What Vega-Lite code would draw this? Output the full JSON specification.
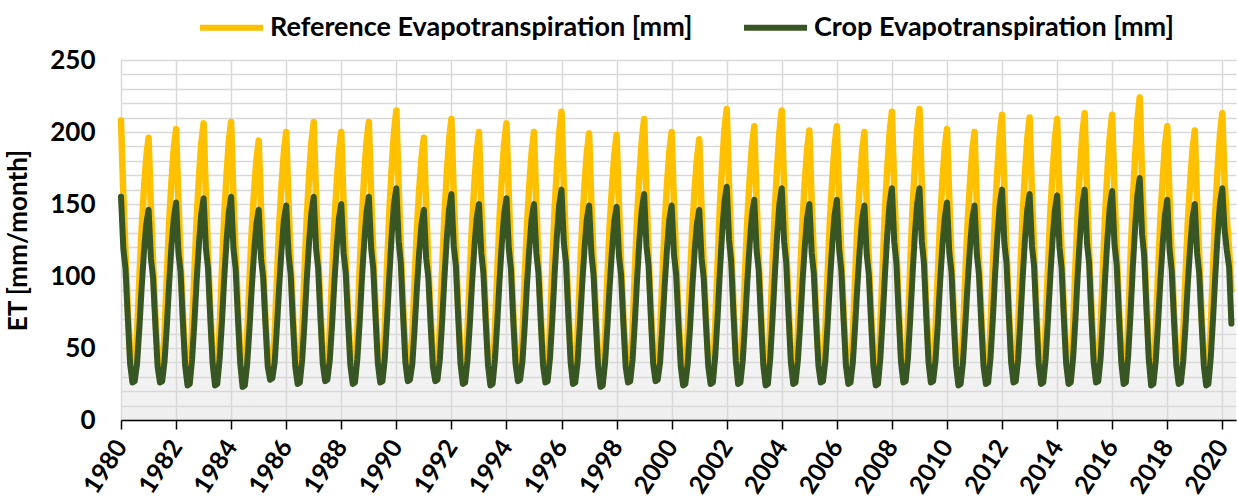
{
"$schema": "https://vega.github.io/schema/vega-lite/v6.json",
"width": 1115, "height": 360,
"autosize": "none",
"padding": {"left": 121, "top": 60, "right": 2, "bottom": 83},
"background": "white",
"config": {
  "font": "Lato",
  "view": {"stroke": null, "fill": {"gradient": "linear", "x1": 0, "y1": 0, "x2": 0, "y2": 1, "stops": [{"offset": 0, "color": "#ffffff"}, {"offset": 0.3, "color": "#ffffff"}, {"offset": 1, "color": "#efefef"}]}},
  "axisY": {"labelOverlap": false, "ticks": false, "domain": false, "labelFontSize": 26, "labelFontWeight": "bold", "labelColor": "#000", "labelPadding": 26, "titleFontSize": 26, "titleFontWeight": "bold", "titleColor": "#000", "titlePadding": 18, "gridColor": "#d9d9d9", "gridWidth": 1.5},
  "legend": {"orient": "none", "legendX": 76, "legendY": -67, "direction": "horizontal", "symbolType": "stroke", "symbolSize": 3969, "symbolStrokeWidth": 6, "labelFontSize": 27, "labelFontWeight": "bold", "labelFont": "Lato", "labelLimit": 700, "columnPadding": 39, "labelOffset": 4, "labelColor": "#000", "title": null}
},
"data": {"values": [
{"d":"1980-01","r":208,"c":155},{"d":"1980-02","r":156,"c":119},{"d":"1980-03","r":116,"c":105},{"d":"1980-04","r":77,"c":70},{"d":"1980-05","r":46,"c":39},{"d":"1980-06","r":31,"c":26},{"d":"1980-07","r":32,"c":27},{"d":"1980-08","r":59,"c":39},{"d":"1980-09","r":98,"c":64},{"d":"1980-10","r":133,"c":92},{"d":"1980-11","r":161,"c":117},{"d":"1980-12","r":182,"c":136},
{"d":"1981-01","r":196,"c":146},{"d":"1981-02","r":147,"c":112},{"d":"1981-03","r":110,"c":99},{"d":"1981-04","r":73,"c":66},{"d":"1981-05","r":43,"c":37},{"d":"1981-06","r":31,"c":26},{"d":"1981-07","r":32,"c":27},{"d":"1981-08","r":61,"c":41},{"d":"1981-09","r":101,"c":66},{"d":"1981-10","r":137,"c":95},{"d":"1981-11","r":166,"c":121},{"d":"1981-12","r":188,"c":140},
{"d":"1982-01","r":202,"c":151},{"d":"1982-02","r":152,"c":116},{"d":"1982-03","r":113,"c":103},{"d":"1982-04","r":75,"c":68},{"d":"1982-05","r":44,"c":38},{"d":"1982-06","r":29,"c":24},{"d":"1982-07","r":30,"c":25},{"d":"1982-08","r":62,"c":42},{"d":"1982-09","r":103,"c":68},{"d":"1982-10","r":140,"c":97},{"d":"1982-11","r":169,"c":123},{"d":"1982-12","r":192,"c":143},
{"d":"1983-01","r":206,"c":154},{"d":"1983-02","r":155,"c":119},{"d":"1983-03","r":115,"c":105},{"d":"1983-04","r":76,"c":69},{"d":"1983-05","r":45,"c":39},{"d":"1983-06","r":29,"c":24},{"d":"1983-07","r":30,"c":25},{"d":"1983-08","r":62,"c":42},{"d":"1983-09","r":104,"c":68},{"d":"1983-10","r":141,"c":98},{"d":"1983-11","r":170,"c":124},{"d":"1983-12","r":193,"c":144},
{"d":"1984-01","r":207,"c":155},{"d":"1984-02","r":155,"c":119},{"d":"1984-03","r":116,"c":105},{"d":"1984-04","r":77,"c":70},{"d":"1984-05","r":46,"c":39},{"d":"1984-06","r":28,"c":23},{"d":"1984-07","r":29,"c":24},{"d":"1984-08","r":58,"c":39},{"d":"1984-09","r":97,"c":64},{"d":"1984-10","r":132,"c":92},{"d":"1984-11","r":159,"c":117},{"d":"1984-12","r":180,"c":136},
{"d":"1985-01","r":194,"c":146},{"d":"1985-02","r":146,"c":112},{"d":"1985-03","r":109,"c":99},{"d":"1985-04","r":72,"c":66},{"d":"1985-05","r":43,"c":37},{"d":"1985-06","r":33,"c":28},{"d":"1985-07","r":34,"c":29},{"d":"1985-08","r":60,"c":40},{"d":"1985-09","r":100,"c":66},{"d":"1985-10","r":136,"c":94},{"d":"1985-11","r":164,"c":119},{"d":"1985-12","r":186,"c":139},
{"d":"1986-01","r":200,"c":149},{"d":"1986-02","r":150,"c":115},{"d":"1986-03","r":112,"c":101},{"d":"1986-04","r":74,"c":67},{"d":"1986-05","r":44,"c":37},{"d":"1986-06","r":30,"c":25},{"d":"1986-07","r":31,"c":26},{"d":"1986-08","r":62,"c":42},{"d":"1986-09","r":104,"c":68},{"d":"1986-10","r":141,"c":98},{"d":"1986-11","r":170,"c":124},{"d":"1986-12","r":193,"c":144},
{"d":"1987-01","r":207,"c":155},{"d":"1987-02","r":155,"c":119},{"d":"1987-03","r":116,"c":105},{"d":"1987-04","r":77,"c":70},{"d":"1987-05","r":46,"c":39},{"d":"1987-06","r":32,"c":27},{"d":"1987-07","r":33,"c":28},{"d":"1987-08","r":60,"c":41},{"d":"1987-09","r":100,"c":66},{"d":"1987-10","r":136,"c":95},{"d":"1987-11","r":164,"c":120},{"d":"1987-12","r":186,"c":140},
{"d":"1988-01","r":200,"c":150},{"d":"1988-02","r":150,"c":116},{"d":"1988-03","r":112,"c":102},{"d":"1988-04","r":74,"c":68},{"d":"1988-05","r":44,"c":38},{"d":"1988-06","r":30,"c":25},{"d":"1988-07","r":31,"c":26},{"d":"1988-08","r":62,"c":42},{"d":"1988-09","r":104,"c":68},{"d":"1988-10","r":141,"c":98},{"d":"1988-11","r":170,"c":124},{"d":"1988-12","r":193,"c":144},
{"d":"1989-01","r":207,"c":155},{"d":"1989-02","r":155,"c":119},{"d":"1989-03","r":116,"c":105},{"d":"1989-04","r":77,"c":70},{"d":"1989-05","r":46,"c":39},{"d":"1989-06","r":31,"c":26},{"d":"1989-07","r":32,"c":27},{"d":"1989-08","r":65,"c":43},{"d":"1989-09","r":108,"c":71},{"d":"1989-10","r":146,"c":101},{"d":"1989-11","r":176,"c":129},{"d":"1989-12","r":200,"c":150},
{"d":"1990-01","r":215,"c":161},{"d":"1990-02","r":161,"c":124},{"d":"1990-03","r":120,"c":109},{"d":"1990-04","r":80,"c":72},{"d":"1990-05","r":47,"c":40},{"d":"1990-06","r":32,"c":27},{"d":"1990-07","r":33,"c":28},{"d":"1990-08","r":59,"c":39},{"d":"1990-09","r":98,"c":64},{"d":"1990-10","r":133,"c":92},{"d":"1990-11","r":161,"c":117},{"d":"1990-12","r":182,"c":136},
{"d":"1991-01","r":196,"c":146},{"d":"1991-02","r":147,"c":112},{"d":"1991-03","r":110,"c":99},{"d":"1991-04","r":73,"c":66},{"d":"1991-05","r":43,"c":37},{"d":"1991-06","r":32,"c":27},{"d":"1991-07","r":33,"c":28},{"d":"1991-08","r":63,"c":42},{"d":"1991-09","r":105,"c":69},{"d":"1991-10","r":142,"c":99},{"d":"1991-11","r":171,"c":126},{"d":"1991-12","r":194,"c":146},
{"d":"1992-01","r":209,"c":157},{"d":"1992-02","r":157,"c":121},{"d":"1992-03","r":117,"c":107},{"d":"1992-04","r":77,"c":71},{"d":"1992-05","r":46,"c":39},{"d":"1992-06","r":30,"c":25},{"d":"1992-07","r":31,"c":26},{"d":"1992-08","r":60,"c":41},{"d":"1992-09","r":100,"c":66},{"d":"1992-10","r":136,"c":95},{"d":"1992-11","r":164,"c":120},{"d":"1992-12","r":186,"c":140},
{"d":"1993-01","r":200,"c":150},{"d":"1993-02","r":150,"c":116},{"d":"1993-03","r":112,"c":102},{"d":"1993-04","r":74,"c":68},{"d":"1993-05","r":44,"c":38},{"d":"1993-06","r":29,"c":24},{"d":"1993-07","r":30,"c":25},{"d":"1993-08","r":62,"c":42},{"d":"1993-09","r":103,"c":68},{"d":"1993-10","r":140,"c":97},{"d":"1993-11","r":169,"c":123},{"d":"1993-12","r":192,"c":143},
{"d":"1994-01","r":206,"c":154},{"d":"1994-02","r":155,"c":119},{"d":"1994-03","r":115,"c":105},{"d":"1994-04","r":76,"c":69},{"d":"1994-05","r":45,"c":39},{"d":"1994-06","r":32,"c":27},{"d":"1994-07","r":33,"c":28},{"d":"1994-08","r":60,"c":41},{"d":"1994-09","r":100,"c":66},{"d":"1994-10","r":136,"c":95},{"d":"1994-11","r":164,"c":120},{"d":"1994-12","r":186,"c":140},
{"d":"1995-01","r":200,"c":150},{"d":"1995-02","r":150,"c":116},{"d":"1995-03","r":112,"c":102},{"d":"1995-04","r":74,"c":68},{"d":"1995-05","r":44,"c":38},{"d":"1995-06","r":31,"c":26},{"d":"1995-07","r":32,"c":27},{"d":"1995-08","r":64,"c":43},{"d":"1995-09","r":107,"c":70},{"d":"1995-10","r":146,"c":101},{"d":"1995-11","r":175,"c":128},{"d":"1995-12","r":199,"c":149},
{"d":"1996-01","r":214,"c":160},{"d":"1996-02","r":161,"c":123},{"d":"1996-03","r":120,"c":109},{"d":"1996-04","r":79,"c":72},{"d":"1996-05","r":47,"c":40},{"d":"1996-06","r":30,"c":25},{"d":"1996-07","r":31,"c":26},{"d":"1996-08","r":60,"c":40},{"d":"1996-09","r":100,"c":66},{"d":"1996-10","r":135,"c":94},{"d":"1996-11","r":163,"c":119},{"d":"1996-12","r":185,"c":139},
{"d":"1997-01","r":199,"c":149},{"d":"1997-02","r":149,"c":115},{"d":"1997-03","r":111,"c":101},{"d":"1997-04","r":74,"c":67},{"d":"1997-05","r":44,"c":37},{"d":"1997-06","r":28,"c":23},{"d":"1997-07","r":29,"c":24},{"d":"1997-08","r":59,"c":40},{"d":"1997-09","r":99,"c":65},{"d":"1997-10","r":135,"c":93},{"d":"1997-11","r":162,"c":118},{"d":"1997-12","r":184,"c":138},
{"d":"1998-01","r":198,"c":148},{"d":"1998-02","r":149,"c":114},{"d":"1998-03","r":111,"c":101},{"d":"1998-04","r":73,"c":67},{"d":"1998-05","r":44,"c":37},{"d":"1998-06","r":31,"c":26},{"d":"1998-07","r":32,"c":27},{"d":"1998-08","r":63,"c":42},{"d":"1998-09","r":105,"c":69},{"d":"1998-10","r":142,"c":99},{"d":"1998-11","r":171,"c":126},{"d":"1998-12","r":194,"c":146},
{"d":"1999-01","r":209,"c":157},{"d":"1999-02","r":157,"c":121},{"d":"1999-03","r":117,"c":107},{"d":"1999-04","r":77,"c":71},{"d":"1999-05","r":46,"c":39},{"d":"1999-06","r":32,"c":27},{"d":"1999-07","r":33,"c":28},{"d":"1999-08","r":60,"c":40},{"d":"1999-09","r":100,"c":66},{"d":"1999-10","r":136,"c":94},{"d":"1999-11","r":164,"c":119},{"d":"1999-12","r":186,"c":139},
{"d":"2000-01","r":200,"c":149},{"d":"2000-02","r":150,"c":115},{"d":"2000-03","r":112,"c":101},{"d":"2000-04","r":74,"c":67},{"d":"2000-05","r":44,"c":37},{"d":"2000-06","r":29,"c":24},{"d":"2000-07","r":30,"c":25},{"d":"2000-08","r":59,"c":39},{"d":"2000-09","r":98,"c":64},{"d":"2000-10","r":133,"c":92},{"d":"2000-11","r":160,"c":117},{"d":"2000-12","r":181,"c":136},
{"d":"2001-01","r":195,"c":146},{"d":"2001-02","r":146,"c":112},{"d":"2001-03","r":109,"c":99},{"d":"2001-04","r":72,"c":66},{"d":"2001-05","r":43,"c":37},{"d":"2001-06","r":30,"c":25},{"d":"2001-07","r":31,"c":26},{"d":"2001-08","r":65,"c":44},{"d":"2001-09","r":108,"c":71},{"d":"2001-10","r":147,"c":102},{"d":"2001-11","r":177,"c":130},{"d":"2001-12","r":201,"c":151},
{"d":"2002-01","r":216,"c":162},{"d":"2002-02","r":162,"c":125},{"d":"2002-03","r":121,"c":110},{"d":"2002-04","r":80,"c":73},{"d":"2002-05","r":48,"c":41},{"d":"2002-06","r":30,"c":25},{"d":"2002-07","r":31,"c":26},{"d":"2002-08","r":61,"c":41},{"d":"2002-09","r":102,"c":67},{"d":"2002-10","r":139,"c":96},{"d":"2002-11","r":167,"c":122},{"d":"2002-12","r":190,"c":142},
{"d":"2003-01","r":204,"c":153},{"d":"2003-02","r":153,"c":118},{"d":"2003-03","r":114,"c":104},{"d":"2003-04","r":75,"c":69},{"d":"2003-05","r":45,"c":38},{"d":"2003-06","r":29,"c":24},{"d":"2003-07","r":30,"c":25},{"d":"2003-08","r":65,"c":43},{"d":"2003-09","r":108,"c":71},{"d":"2003-10","r":146,"c":101},{"d":"2003-11","r":176,"c":129},{"d":"2003-12","r":200,"c":150},
{"d":"2004-01","r":215,"c":161},{"d":"2004-02","r":161,"c":124},{"d":"2004-03","r":120,"c":109},{"d":"2004-04","r":80,"c":72},{"d":"2004-05","r":47,"c":40},{"d":"2004-06","r":30,"c":25},{"d":"2004-07","r":31,"c":26},{"d":"2004-08","r":60,"c":41},{"d":"2004-09","r":101,"c":66},{"d":"2004-10","r":137,"c":95},{"d":"2004-11","r":165,"c":120},{"d":"2004-12","r":187,"c":140},
{"d":"2005-01","r":201,"c":150},{"d":"2005-02","r":151,"c":116},{"d":"2005-03","r":113,"c":102},{"d":"2005-04","r":74,"c":68},{"d":"2005-05","r":44,"c":38},{"d":"2005-06","r":31,"c":26},{"d":"2005-07","r":32,"c":27},{"d":"2005-08","r":61,"c":41},{"d":"2005-09","r":102,"c":67},{"d":"2005-10","r":139,"c":96},{"d":"2005-11","r":167,"c":122},{"d":"2005-12","r":190,"c":142},
{"d":"2006-01","r":204,"c":153},{"d":"2006-02","r":153,"c":118},{"d":"2006-03","r":114,"c":104},{"d":"2006-04","r":75,"c":69},{"d":"2006-05","r":45,"c":38},{"d":"2006-06","r":30,"c":25},{"d":"2006-07","r":31,"c":26},{"d":"2006-08","r":60,"c":40},{"d":"2006-09","r":100,"c":66},{"d":"2006-10","r":136,"c":94},{"d":"2006-11","r":164,"c":119},{"d":"2006-12","r":186,"c":139},
{"d":"2007-01","r":200,"c":149},{"d":"2007-02","r":150,"c":115},{"d":"2007-03","r":112,"c":101},{"d":"2007-04","r":74,"c":67},{"d":"2007-05","r":44,"c":37},{"d":"2007-06","r":29,"c":24},{"d":"2007-07","r":30,"c":25},{"d":"2007-08","r":64,"c":43},{"d":"2007-09","r":107,"c":71},{"d":"2007-10","r":146,"c":101},{"d":"2007-11","r":175,"c":129},{"d":"2007-12","r":199,"c":150},
{"d":"2008-01","r":214,"c":161},{"d":"2008-02","r":161,"c":124},{"d":"2008-03","r":120,"c":109},{"d":"2008-04","r":79,"c":72},{"d":"2008-05","r":47,"c":40},{"d":"2008-06","r":31,"c":26},{"d":"2008-07","r":32,"c":27},{"d":"2008-08","r":65,"c":43},{"d":"2008-09","r":108,"c":71},{"d":"2008-10","r":147,"c":101},{"d":"2008-11","r":177,"c":129},{"d":"2008-12","r":201,"c":150},
{"d":"2009-01","r":216,"c":161},{"d":"2009-02","r":162,"c":124},{"d":"2009-03","r":121,"c":109},{"d":"2009-04","r":80,"c":72},{"d":"2009-05","r":48,"c":40},{"d":"2009-06","r":31,"c":26},{"d":"2009-07","r":32,"c":27},{"d":"2009-08","r":61,"c":41},{"d":"2009-09","r":101,"c":66},{"d":"2009-10","r":137,"c":95},{"d":"2009-11","r":166,"c":121},{"d":"2009-12","r":188,"c":140},
{"d":"2010-01","r":202,"c":151},{"d":"2010-02","r":152,"c":116},{"d":"2010-03","r":113,"c":103},{"d":"2010-04","r":75,"c":68},{"d":"2010-05","r":44,"c":38},{"d":"2010-06","r":29,"c":24},{"d":"2010-07","r":30,"c":25},{"d":"2010-08","r":60,"c":40},{"d":"2010-09","r":100,"c":66},{"d":"2010-10","r":136,"c":94},{"d":"2010-11","r":164,"c":119},{"d":"2010-12","r":186,"c":139},
{"d":"2011-01","r":200,"c":149},{"d":"2011-02","r":150,"c":115},{"d":"2011-03","r":112,"c":101},{"d":"2011-04","r":74,"c":67},{"d":"2011-05","r":44,"c":37},{"d":"2011-06","r":30,"c":25},{"d":"2011-07","r":31,"c":26},{"d":"2011-08","r":64,"c":43},{"d":"2011-09","r":106,"c":70},{"d":"2011-10","r":144,"c":101},{"d":"2011-11","r":174,"c":128},{"d":"2011-12","r":197,"c":149},
{"d":"2012-01","r":212,"c":160},{"d":"2012-02","r":159,"c":123},{"d":"2012-03","r":119,"c":109},{"d":"2012-04","r":78,"c":72},{"d":"2012-05","r":47,"c":40},{"d":"2012-06","r":31,"c":26},{"d":"2012-07","r":32,"c":27},{"d":"2012-08","r":63,"c":42},{"d":"2012-09","r":105,"c":69},{"d":"2012-10","r":143,"c":99},{"d":"2012-11","r":172,"c":126},{"d":"2012-12","r":195,"c":146},
{"d":"2013-01","r":210,"c":157},{"d":"2013-02","r":158,"c":121},{"d":"2013-03","r":118,"c":107},{"d":"2013-04","r":78,"c":71},{"d":"2013-05","r":46,"c":39},{"d":"2013-06","r":30,"c":25},{"d":"2013-07","r":31,"c":26},{"d":"2013-08","r":63,"c":42},{"d":"2013-09","r":105,"c":69},{"d":"2013-10","r":142,"c":98},{"d":"2013-11","r":171,"c":125},{"d":"2013-12","r":194,"c":145},
{"d":"2014-01","r":209,"c":156},{"d":"2014-02","r":157,"c":120},{"d":"2014-03","r":117,"c":106},{"d":"2014-04","r":77,"c":70},{"d":"2014-05","r":46,"c":39},{"d":"2014-06","r":30,"c":25},{"d":"2014-07","r":31,"c":26},{"d":"2014-08","r":64,"c":43},{"d":"2014-09","r":107,"c":70},{"d":"2014-10","r":145,"c":101},{"d":"2014-11","r":175,"c":128},{"d":"2014-12","r":198,"c":149},
{"d":"2015-01","r":213,"c":160},{"d":"2015-02","r":160,"c":123},{"d":"2015-03","r":119,"c":109},{"d":"2015-04","r":79,"c":72},{"d":"2015-05","r":47,"c":40},{"d":"2015-06","r":31,"c":26},{"d":"2015-07","r":32,"c":27},{"d":"2015-08","r":64,"c":43},{"d":"2015-09","r":106,"c":70},{"d":"2015-10","r":144,"c":100},{"d":"2015-11","r":174,"c":127},{"d":"2015-12","r":197,"c":148},
{"d":"2016-01","r":212,"c":159},{"d":"2016-02","r":159,"c":122},{"d":"2016-03","r":119,"c":108},{"d":"2016-04","r":78,"c":72},{"d":"2016-05","r":47,"c":40},{"d":"2016-06","r":30,"c":25},{"d":"2016-07","r":31,"c":26},{"d":"2016-08","r":67,"c":45},{"d":"2016-09","r":112,"c":74},{"d":"2016-10","r":152,"c":106},{"d":"2016-11","r":184,"c":134},{"d":"2016-12","r":208,"c":156},
{"d":"2017-01","r":224,"c":168},{"d":"2017-02","r":168,"c":129},{"d":"2017-03","r":125,"c":114},{"d":"2017-04","r":83,"c":76},{"d":"2017-05","r":49,"c":42},{"d":"2017-06","r":29,"c":24},{"d":"2017-07","r":30,"c":25},{"d":"2017-08","r":61,"c":41},{"d":"2017-09","r":102,"c":67},{"d":"2017-10","r":139,"c":96},{"d":"2017-11","r":167,"c":122},{"d":"2017-12","r":190,"c":142},
{"d":"2018-01","r":204,"c":153},{"d":"2018-02","r":153,"c":118},{"d":"2018-03","r":114,"c":104},{"d":"2018-04","r":75,"c":69},{"d":"2018-05","r":45,"c":38},{"d":"2018-06","r":30,"c":25},{"d":"2018-07","r":31,"c":26},{"d":"2018-08","r":60,"c":41},{"d":"2018-09","r":101,"c":66},{"d":"2018-10","r":137,"c":95},{"d":"2018-11","r":165,"c":120},{"d":"2018-12","r":187,"c":140},
{"d":"2019-01","r":201,"c":150},{"d":"2019-02","r":151,"c":116},{"d":"2019-03","r":113,"c":102},{"d":"2019-04","r":74,"c":68},{"d":"2019-05","r":44,"c":38},{"d":"2019-06","r":29,"c":24},{"d":"2019-07","r":30,"c":25},{"d":"2019-08","r":64,"c":43},{"d":"2019-09","r":107,"c":71},{"d":"2019-10","r":145,"c":101},{"d":"2019-11","r":175,"c":129},{"d":"2019-12","r":198,"c":150},
{"d":"2020-01","r":213,"c":161},{"d":"2020-02","r":165,"c":132},{"d":"2020-03","r":140,"c":118},{"d":"2020-04","r":118,"c":106},{"d":"2020-05","r":90,"c":67}
]},
"encoding": {
  "x": {"field": "d", "type": "temporal",
    "scale": {"type": "utc", "domain": [{"year": 1980, "month": 1, "date": 1, "utc": true}, {"year": 2020, "month": 7, "date": 1, "utc": true}]},
    "axis": {"title": null, "format": "%Y", "tickCount": {"interval": "year", "step": 2}, "labelAngle": -57, "labelAlign": "right", "labelBaseline": "middle", "labelFontSize": 25, "labelFontWeight": "bold", "labelColor": "#000", "labelPadding": 13, "labelFlush": false, "labelOverlap": false, "domainColor": "#000", "domainWidth": 1.5, "tickColor": "#000", "tickSize": 9, "tickWidth": 1.5, "gridColor": "#d9d9d9", "gridWidth": 1.5}
  }
},
"layer": [
  {"mark": {"type": "line", "strokeWidth": 6.5, "strokeJoin": "round", "strokeCap": "round"},
   "encoding": {
     "y": {"field": "r", "type": "quantitative", "scale": {"domain": [0, 250], "nice": false},
       "axis": {"title": "ET [mm/month]", "values": [0,10,20,30,40,50,60,70,80,90,100,110,120,130,140,150,160,170,180,190,200,210,220,230,240,250], "labelExpr": "datum.value % 50 === 0 ? datum.label : ''"}},
     "color": {"datum": "Reference Evapotranspiration [mm]", "type": "nominal",
       "scale": {"domain": ["Reference Evapotranspiration [mm]", "Crop Evapotranspiration [mm]"], "range": ["#FFC000", "#375623"]}}
   }},
  {"mark": {"type": "line", "strokeWidth": 6, "strokeJoin": "round", "strokeCap": "round"},
   "encoding": {
     "y": {"field": "c", "type": "quantitative",
       "axis": {"title": "ET [mm/month]", "values": [0,10,20,30,40,50,60,70,80,90,100,110,120,130,140,150,160,170,180,190,200,210,220,230,240,250], "labelExpr": "datum.value % 50 === 0 ? datum.label : ''"}},
     "color": {"datum": "Crop Evapotranspiration [mm]", "type": "nominal"}
   }}
]
}
